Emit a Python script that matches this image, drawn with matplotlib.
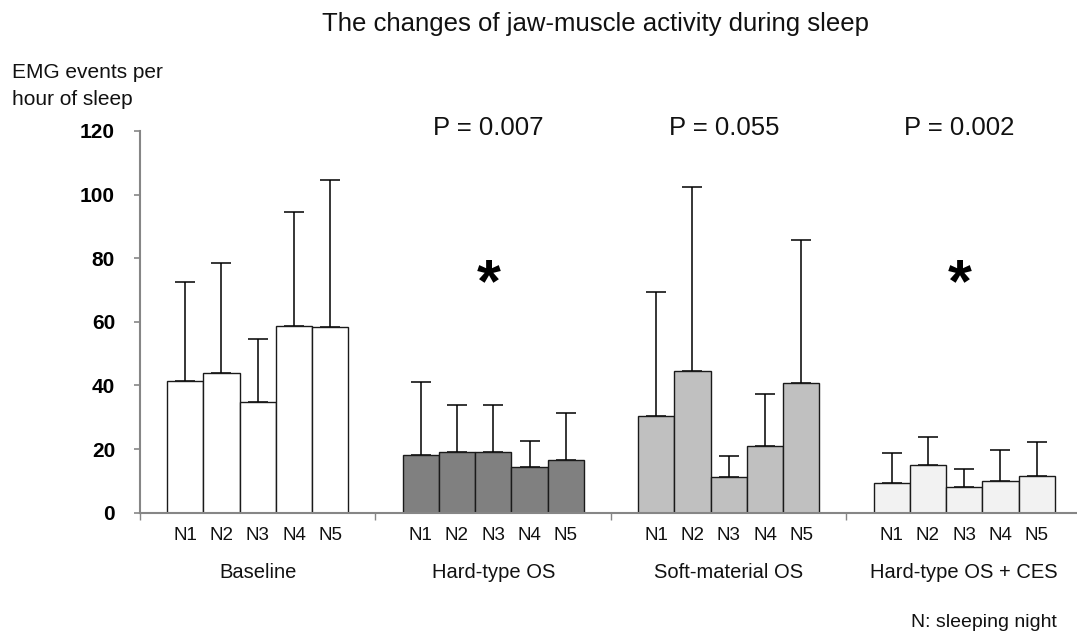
import numpy as np
from matplotlib import pyplot as plt
from matplotlib import transforms

plt.rcParams['font.family'] = ['Liberation Sans', 'DejaVu Sans']

# data
groups = ['Baseline', 'Hard-type OS', 'Soft-material OS', 'Hard-type OS + CES']
nights = ['N1', 'N2', 'N3', 'N4', 'N5']
baseline = [41.5, 43.8, 34.7, 58.7, 58.4]
baseline_top = [72.6, 78.5, 54.5, 94.5, 104.5]
hard = [18.2, 19.0, 19.0, 14.3, 16.6]
hard_top = [41.0, 33.8, 33.8, 22.5, 31.3]
soft = [30.3, 44.6, 11.2, 20.9, 40.7]
soft_top = [69.5, 102.5, 17.8, 37.3, 85.6]
ces = [9.2, 14.9, 8.2, 10.0, 11.5]
ces_top = [18.7, 23.9, 13.6, 19.6, 22.3]
p_values = ['', 'P = 0.007', 'P = 0.055', 'P = 0.002']
significant = [False, True, False, True]

colors = ['#ffffff', '#808080', '#c0c0c0', '#f2f2f2']
series = [baseline, hard, soft, ces]
series_top = [baseline_top, hard_top, soft_top, ces_top]

fig = plt.figure(figsize=(10.77, 6.37), dpi=100)
ax = fig.add_axes([0.13, 0.1951, 0.87, 0.5993])

bar_w = 0.154
offset = (1 - 5 * bar_w) / 2
txt = '#111111'

# x in data units, y in figure pixels from the top
trans = transforms.blended_transform_factory(ax.transData, fig.transFigure)

for g in range(4):
    xs = g + offset + bar_w * (np.arange(5) + 0.5)
    vals = np.array(series[g])
    tops = np.array(series_top[g])
    ax.errorbar(xs, vals, yerr=[np.zeros(5), tops - vals], fmt='none',
                ecolor='black', elinewidth=1.1, capsize=7, capthick=1.1, zorder=1)
    ax.bar(xs, vals, width=bar_w, color=colors[g], edgecolor='#1a1a1a',
           linewidth=1.0, zorder=2)

    for x, n in zip(xs, nights):
        ax.text(x, 1 - 540 / 637, n, transform=trans, ha='center', va='baseline',
                fontsize=13.5, color=txt)
    ax.text(g + 0.5, 1 - 578 / 637, groups[g], transform=trans, ha='center',
            va='baseline', fontsize=14.5, color=txt)

    if p_values[g]:
        ax.text(g + 0.48, 118.8, p_values[g], ha='center', va='baseline',
                fontsize=18.5, color=txt, clip_on=False)
    if significant[g]:
        ax.text(g + 0.48, 71.5, '*', ha='center', va='center',
                fontsize=44, fontweight='bold', color='black')

ax.set_xlim(0, 3.979)
ax.set_ylim(0, 120)
ax.set_yticks(range(0, 121, 20))
ax.set_xticks([0, 1, 2, 3])
ax.set_xticklabels([])
for side in ['top', 'right']:
    ax.spines[side].set_visible(False)
for side in ['left', 'bottom']:
    ax.spines[side].set_color('#868686')
    ax.spines[side].set_linewidth(1.5)
ax.tick_params(axis='y', direction='out', length=4, width=1.2, color='#868686',
               pad=14, labelsize=15)
ax.tick_params(axis='x', direction='out', length=5, width=1.0, color='#868686')
for lbl in ax.get_yticklabels():
    lbl.set_fontweight('bold')

fig.text(595 / 1077, 1 - 31 / 637, 'The changes of jaw-muscle activity during sleep',
         ha='center', va='baseline', fontsize=18.5, color=txt)
fig.text(12 / 1077, 1 - 77.5 / 637, 'EMG events per', ha='left', va='baseline',
         fontsize=15, color=txt)
fig.text(12 / 1077, 1 - 105 / 637, 'hour of sleep', ha='left', va='baseline',
         fontsize=15, color=txt)
fig.text(1057 / 1077, 1 - 627 / 637, 'N: sleeping night', ha='right', va='baseline',
         fontsize=14, color=txt)

plt.savefig('out.png', dpi=100)
